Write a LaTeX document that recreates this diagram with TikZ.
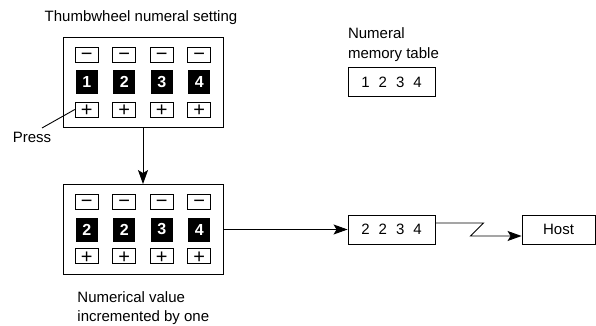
\documentclass[tikz,border=0pt]{standalone}
\usepackage{fontspec}
\setmainfont{Liberation Sans}
\usetikzlibrary{arrows.meta,positioning}
\tikzset{
  panel/.style={draw, minimum width=160pt, minimum height=90pt},
  keybox/.style={draw, minimum width=23pt, minimum height=15pt, inner sep=0pt, text height=0pt, text depth=0pt, font=\fontsize{20}{20}\selectfont},
  digitbox/.style={fill=black, text=white, minimum width=22pt, minimum height=24pt, inner sep=0pt, font=\fontsize{16}{16}\selectfont\bfseries},
  tablebox/.style={draw, minimum width=87pt, minimum height=29pt, inner sep=0pt},
  arr/.style={-{Stealth[length=14pt,width=10pt,inset=3pt]}}
}
\newcommand{\gap}{\hspace{.6em}}
\newcommand{\keyminus}{\smash{\raisebox{-0.32em}{−}}}
\newcommand{\keyplus}{\smash{\raisebox{-0.353em}{+}}}
\begin{document}
\begin{tikzpicture}[x=1pt,y=-1pt,font=\fontsize{15}{19.5}\selectfont,line width=0.9pt]
\useasboundingbox (0,0) rectangle (596,326);
\node[panel] (top) at (143,82) {};
\node[panel] (bot) at (143,229.5) {};
\node (toplab) at (141,18) {Thumbwheel numeral setting};
\foreach \i/\x/\a/\b in {1/86.75/1/2, 2/124.25/2/2, 3/161.75/3/3, 4/199.25/4/4}{
  \node[keybox] (tm\i) at (\x,54.5) {\keyminus};
  \node[digitbox] (td\i) at (\x,82) {\a};
  \node[keybox] (tp\i) at (\x,109.5) {\keyplus};
  \node[keybox] (bm\i) at (\x,201.5) {\keyminus};
  \node[digitbox] (bd\i) at (\x,229.5) {\b};
  \node[keybox] (bp\i) at (\x,256) {\keyplus};
}
\node (press) at (32,137) {Press};
\draw ([xshift=10pt]press.north) -- (tp1.west);
\draw[arr] (top) -- (bot);
\node[anchor=north west, align=left, inner sep=0pt] (botlab) at (77,291) {Numerical value\\incremented by one};
\node[tablebox] (memtop) at (391.5,82) {1\gap2\gap3\gap4};
\node[anchor=south west, align=left, inner sep=0pt] (memlab) at ([yshift=5pt]memtop.north west) {Numeral\\memory table};
\node[tablebox] (mem) at (391.5,229.5) {2\gap2\gap3\gap4};
\node[draw, minimum width=73pt, minimum height=29pt] (host) at (558.5,229.5) {Host};
\draw[arr] (bot) -- (mem);
\draw[arr] ([yshift=6.5pt]mem.east) -- ++(48,0) -- ++(-13,13) -- ([yshift=-6.5pt]host.west);
\end{tikzpicture}
\end{document}
